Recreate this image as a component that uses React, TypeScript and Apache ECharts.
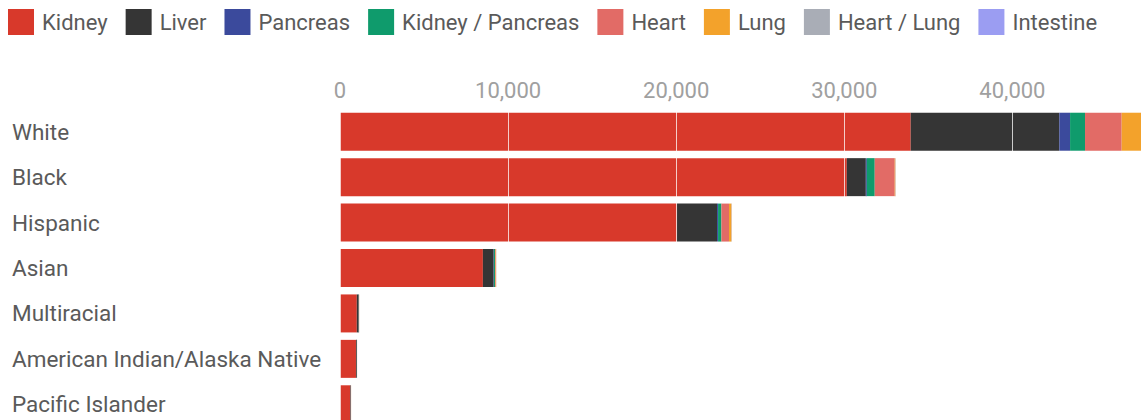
import React, { useEffect, useRef } from "react";
import * as echarts from "echarts";

const categories = [
  "White",
  "Black",
  "Hispanic",
  "Asian",
  "Multiracial",
  "American Indian/Alaska Native",
  "Pacific Islander",
];

const organs = ["Kidney", "Liver", "Pancreas", "Kidney / Pancreas", "Heart", "Lung", "Heart / Lung", "Intestine"];

const kidney = [33950, 30150, 20050, 8500, 1000, 950, 620];
const liver = [8840, 1130, 2380, 640, 110, 50, 30];
const pancreas = [640, 60, 60, 20, 5, 3, 2];
const kidneyPancreas = [890, 470, 200, 60, 10, 5, 3];
const heart = [2180, 1190, 450, 40, 10, 5, 3];
const lung = [1400, 40, 150, 30, 5, 3, 2];
const heartLung = [30, 5, 5, 2, 1, 1, 0];
const intestine = [60, 10, 10, 5, 1, 1, 0];

const seriesValues = [kidney, liver, pancreas, kidneyPancreas, heart, lung, heartLung, intestine];
const colors = ["#d8392b", "#353535", "#3b4a9c", "#0f9b6c", "#e26b66", "#f3a22b", "#a9adb6", "#9b9df2"];

const xTicks = [0, 10000, 20000, 30000, 40000];

export default function App() {
  const ref = useRef<HTMLDivElement>(null);
  useEffect(() => {
    if (!ref.current) return;
    const chart = echarts.init(ref.current, undefined, { renderer: "svg" });
    chart.setOption({
      animation: false,
      textStyle: { fontFamily: "Roboto" },
      legend: {
        left: 8,
        top: 9,
        padding: 0,
        itemWidth: 26,
        itemHeight: 26,
        itemGap: 18,
        icon: "rect",
        data: organs,
        textStyle: { fontSize: 22, color: "#5a5a5a", fontFamily: "Roboto", padding: [0, 0, 0, 3] },
      },
      grid: { left: 340, top: 109, bottom: 3, right: 0, containLabel: false },
      xAxis: {
        type: "value",
        position: "top",
        min: 0,
        max: 47650,
        interval: 10000,
        z: 5,
        axisLine: { show: false },
        axisTick: { show: false },
        splitLine: { show: true, lineStyle: { color: "rgba(255,255,255,0.75)", width: 1 } },
        axisLabel: {
          fontSize: 22,
          color: "#a0a0a0",
          fontFamily: "Roboto",
          margin: 8,
          showMaxLabel: false,
          formatter: (v: number) => (xTicks.includes(v) ? v.toLocaleString("en-US") : ""),
        },
      },
      yAxis: {
        type: "category",
        inverse: true,
        data: categories,
        axisLine: { show: false },
        axisTick: { show: false },
        axisLabel: {
          fontSize: 22.5,
          color: "#5a5a5a",
          fontFamily: "Roboto",
          align: "left",
          margin: 328,
          padding: [0, 0, 5, 0],
        },
      },
      series: organs.map((name, i) => ({
        name,
        type: "bar",
        stack: "total",
        data: seriesValues[i],
        barWidth: 38,
        clip: true,
        itemStyle: { color: colors[i] },
      })),
    });
    return () => chart.dispose();
  }, []);
  return (
    <div style={{ position: "fixed", left: 0, top: 0, width: 1141, height: 420, overflow: "hidden", background: "#fff" }}>
      <div ref={ref} style={{ width: 1141, height: 430 }} />
    </div>
  );
}
